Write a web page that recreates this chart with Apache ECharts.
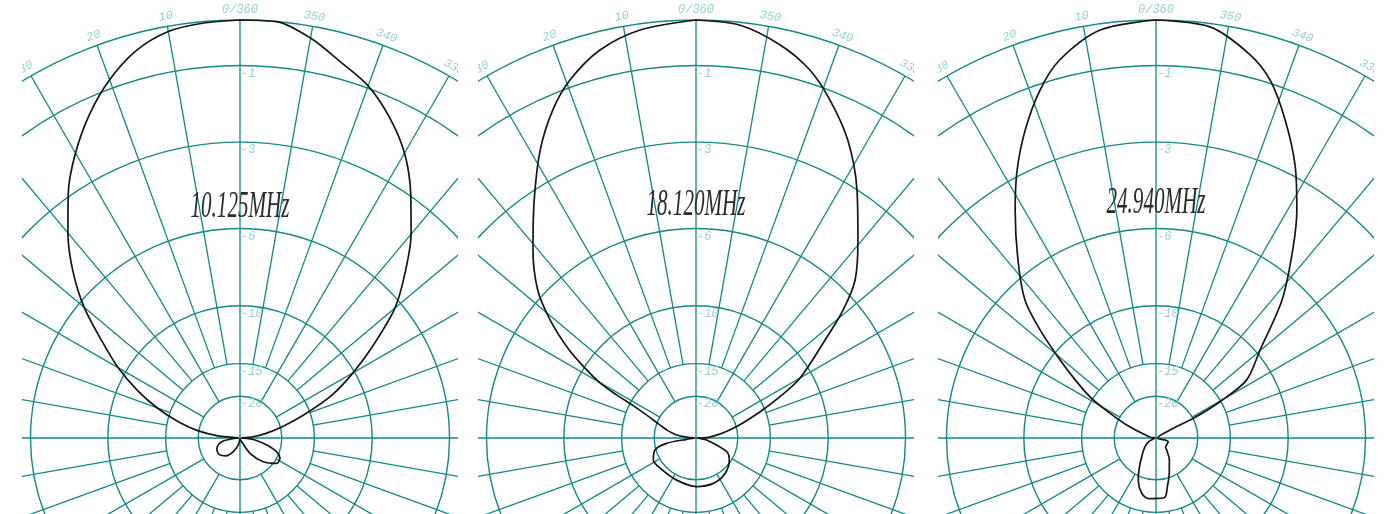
<!DOCTYPE html>
<html><head><meta charset="utf-8">
<script src="https://cdn.jsdelivr.net/npm/echarts@6/dist/echarts.min.js"></script>
<style>
html,body{margin:0;padding:0;background:#fff;width:1389px;height:514px;overflow:hidden;position:relative}
.p{position:absolute;top:0;width:436px;height:514px;}
</style></head><body>
<div id="c1" class="p" style="left:22px"></div>
<div id="c2" class="p" style="left:478px"></div>
<div id="c3" class="p" style="left:938px"></div>
<script>
// ---- grid / tick data ----
const ringDb = [0, -1, -3, -6, -10, -15, -20];
const ringLabels = ['', '-1', '-3', '-6', '-10', '-15', '-20'];
const spokeAngles = [0,10,20,30,40,50,60,70,80,90,100,110,120,130,140,150,160,170,180,190,200,210,220,230,240,250,260,270,280,290,300,310,320,330,340,350];
const angleLabels = ['0/360','10','20','30','40','50','60','70','80','90','100','110','120','130','140','150','160','170','180','190','200','210','220','230','240','250','260','270','280','290','300','310','320','330','340','350'];
const titles = ['10.125MHz', '18.120MHz', '24.940MHz'];

// ---- pattern data (angle in degrees CCW from top, gain in dB), in drawing order ----
const p1Angle = [0, 5, 10, 15, 20, 25, 30, 35, 40, 45, 50, 55, 60, 65, 70, 75, 80, 85, 90, 95, 101.4, 111, 118, 126.9, 134, 142, 154, 166, 180, 205, 213.2, 224.5, 235.4, 243, 249.5, 255.3, 262.4, 267, 270, 275, 280, 285, 290, 295, 300, 305, 310, 315, 320, 325, 330, 335, 340, 345, 350, 355, 360];
const p1Db = [0, -0.03, -0.11, -0.36, -0.8, -1.38, -2.08, -2.9, -3.87, -4.95, -6.25, -7.9, -9.45, -11.3, -13.5, -16.2, -19.6, -26, -50, -35, -27, -24.7, -24.1, -23.9, -24.4, -25.3, -28.8, -35, -50, -50, -27.2, -22, -19.4, -19.4, -20.6, -23.6, -28.8, -36, -50, -31, -24, -19.5, -15.7, -12.3, -10.1, -8.15, -6.3, -5.06, -3.92, -2.95, -2.08, -1.45, -0.95, -0.62, -0.25, 0, 0];

const p2Angle = [0, 7.8, 13.9, 19.4, 23.6, 28.4, 34.2, 40.9, 46.9, 51, 55.1, 58, 60.3, 61.5, 62.6, 67.1, 75, 81, 85, 90, 98, 100.3, 106.3, 117.3, 130.1, 155.3, 180.8, 200.9, 219.4, 236.5, 246, 259.4, 266, 270, 273, 284.6, 292.3, 296.2, 299.9, 307.2, 311, 314.8, 320.7, 327, 333, 338.4, 342.8, 347.9, 353.9, 360];
const p2Db = [0, -0.13, -0.39, -0.84, -1.35, -2.12, -3.24, -4.5, -5.7, -6.95, -8.6, -10.2, -11.7, -13.3, -15.4, -19.1, -23, -26.6, -34, -50, -33, -22.9, -19.8, -18.8, -19, -19.1, -18.7, -18.7, -19.2, -20.4, -21.9, -31.7, -45, -50, -30.6, -20.7, -15.6, -13, -10.85, -8.23, -6.63, -5.41, -4.27, -3.01, -1.94, -1.21, -0.71, -0.34, -0.06, 0];

const p3Angle = [0, 7.8, 14.3, 18.4, 23, 27.4, 31.7, 37.8, 43.5, 47, 50.9, 54.5, 58.5, 61.8, 66.1, 83, 90, 115, 128.3, 142.6, 151.1, 157.2, 165.5, 172.7, 180.7, 188.7, 193, 200.6, 211.2, 221.7, 226, 253, 257.5, 270, 299.7, 297.8, 299.6, 302.6, 310.2, 317.6, 324, 328.3, 333, 337.9, 342.3, 346.2, 352.5, 360];
const p3Db = [0, -0.13, -0.6, -1.13, -1.93, -2.83, -3.86, -5.37, -6.83, -8.42, -10.6, -12.6, -14.9, -18.1, -22.3, -37, -50, -35, -29.5, -25, -21.6, -19.2, -17.3, -16.7, -16.8, -16.9, -18.4, -20.9, -24.2, -28.3, -29.9, -30.3, -33, -50, -28.3, -19.9, -15.1, -11.8, -9.74, -6.99, -5.09, -3.86, -2.7, -1.71, -0.93, -0.5, -0.07, 0];

const patterns = [[p1Angle, p1Db], [p2Angle, p2Db], [p3Angle, p3Db]];

// ---- styling ----
const TEAL = '#128888';
const LABEL_TEAL = '#80c4c4';
const RMAX = 1.04;          // radius-axis maximum (room for the angle labels)
const R0DB = 418;           // pixel radius of the 0 dB ring
const toLin = db => Math.pow(10, db / 20);

function spokeStart(a) {
  if (a % 90 === 0) return 0;
  if (a % 30 === 0) return toLin(-20);
  return toLin(-15);
}

function build(idx) {
  const el = document.getElementById('c' + (idx + 1));
  const chart = echarts.init(el, null, {renderer: 'canvas'});
  const [ang, db] = patterns[idx];
  const patternData = ang.map((a, i) => [toLin(db[i]), a]);
  const option = {
    animation: false,
    polar: {center: [218, 438], radius: R0DB * RMAX},
    angleAxis: {type: 'value', min: 0, max: 360, startAngle: 90, clockwise: false,
      axisLine: {show: false}, axisTick: {show: false}, axisLabel: {show: false}, splitLine: {show: false}},
    radiusAxis: {type: 'value', min: 0, max: RMAX,
      axisLine: {show: false}, axisTick: {show: false}, axisLabel: {show: false}, splitLine: {show: false}},
    graphic: [{
      type: 'text', x: 218, y: 207 - idx * 2, scaleX: 0.57, z: 10,
      style: {text: titles[idx], font: 'italic 37px "Liberation Serif"', fill: '#2a2a2a',
        align: 'center', verticalAlign: 'middle', textAlign: 'center', textVerticalAlign: 'middle'}
    }],
    series: [
      { // dB rings
        type: 'custom', coordinateSystem: 'polar', silent: true, z: 1, clip: false,
        data: ringDb.map(d => [toLin(d), 0]),
        renderItem: (params, api) => {
          const c = api.coord([0, 0]);
          const p = api.coord([api.value(0), 0]);
          const r = Math.hypot(p[0] - c[0], p[1] - c[1]);
          return {type: 'circle', shape: {cx: c[0], cy: c[1], r: r},
            style: {fill: 'none', stroke: TEAL, lineWidth: 1.4}};
        }
      },
      { // spokes
        type: 'custom', coordinateSystem: 'polar', silent: true, z: 1, clip: false,
        data: spokeAngles.map(a => [spokeStart(a), a]),
        renderItem: (params, api) => {
          const a = api.value(1);
          const p0 = api.coord([api.value(0), a]);
          const p1 = api.coord([1, a]);
          return {type: 'line', shape: {x1: p0[0], y1: p0[1], x2: p1[0], y2: p1[1]},
            style: {stroke: TEAL, lineWidth: 1.3}};
        }
      },
      { // pattern
        type: 'line', coordinateSystem: 'polar', z: 5, silent: true, clip: false,
        data: patternData, showSymbol: false, smooth: 0.3,
        lineStyle: {color: '#151515', width: 1.7}
      },
      { // angle labels
        type: 'scatter', coordinateSystem: 'polar', z: 6, silent: true, symbolSize: 0, clip: false,
        data: spokeAngles.map((a, i) => ({value: [1.024, a],
          label: {rotate: a <= 180 ? a : a - 360, formatter: angleLabels[i]}})),
        label: {show: true, position: 'inside', color: LABEL_TEAL,
          fontFamily: '"Liberation Mono"', fontStyle: 'italic', fontSize: 12}
      },
      { // dB labels
        type: 'scatter', coordinateSystem: 'polar', z: 6, silent: true, symbolSize: 0, clip: false,
        data: ringDb.slice(1).map((d, i) => ({value: [toLin(d), 0], label: {formatter: ringLabels[i + 1]}})),
        label: {show: true, position: 'right', distance: 1, offset: [0, 8], color: LABEL_TEAL,
          fontFamily: '"Liberation Mono"', fontStyle: 'italic', fontSize: 12}
      }
    ]
  };
  chart.setOption(option);
}
[0, 1, 2].forEach(build);
</script>
</body></html>
